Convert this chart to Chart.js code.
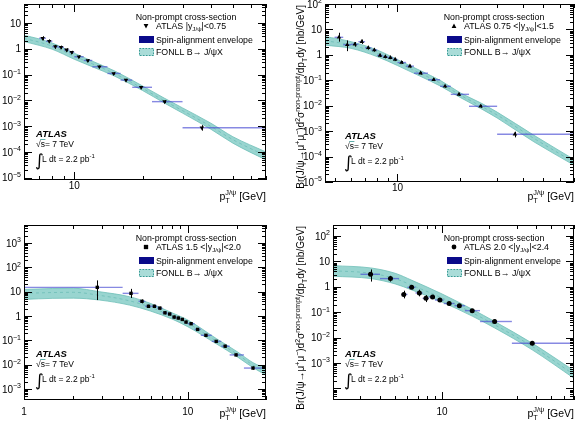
<!DOCTYPE html>
<html>
<head>
<meta charset="utf-8">
<script src="https://cdn.jsdelivr.net/npm/chart.js@4.4.0/dist/chart.umd.min.js"></script>
<style>
  body { margin: 0; background: #fff; width: 578px; height: 425px; overflow: hidden; position: relative; }
  canvas { position: absolute; }
</style>
</head>
<body>
<canvas id="c1" width="289" height="212" style="left:0;top:0"></canvas>
<canvas id="c2" width="289" height="212" style="left:289px;top:0"></canvas>
<canvas id="c3" width="289" height="213" style="left:0;top:212px"></canvas>
<canvas id="c4" width="289" height="213" style="left:289px;top:212px"></canvas>
<script>
// ---- panel 1 : |y| < 0.75
const pt1 = [7.25, 7.75, 8.25, 8.74, 9.24, 9.74, 10.47, 11.47, 12.9, 14.9, 16.9, 19.7, 25, 36.5];
const binLo1 = [7, 7.5, 8, 8.5, 9, 9.5, 10, 11, 12, 14, 16, 18, 22, 30];
const binHi1 = [7.5, 8, 8.5, 9, 9.5, 10, 11, 12, 14, 16, 18, 22, 30, 70];
const xs1 = [2.55, 1.95, 1.2, 1.14, 0.9, 0.73, 0.49, 0.35, 0.2, 0.11, 0.061, 0.032, 0.0089, 0.00087];
const errUp1 = [0.5, 0.35, 0.2, 0.18, 0.14, 0.1, 0.06, 0.04, 0.022, 0.012, 0.007, 0.004, 0.0012, 0.00022];
const errDn1 = [0.45, 0.3, 0.18, 0.16, 0.12, 0.09, 0.055, 0.035, 0.02, 0.011, 0.006, 0.0035, 0.0011, 0.0002];
const fonllPt1 = [6, 7, 8, 10, 12, 15, 20, 25, 30, 40, 50, 70];
const fonllLo1 = [1.9, 1.35, 0.95, 0.39, 0.2, 0.088, 0.024, 0.0078, 0.0032, 0.00076, 0.00022, 0.000049];
const fonllMid1 = [2.5, 1.8, 1.25, 0.51, 0.26, 0.11, 0.029, 0.0095, 0.004, 0.00098, 0.0003, 0.00007];
const fonllHi1 = [3.3, 2.4, 1.65, 0.67, 0.33, 0.14, 0.036, 0.012, 0.0051, 0.0013, 0.00039, 0.0001];

// ---- panel 2 : 0.75 < |y| < 1.5
const pt2 = [5.25, 5.75, 6.25, 6.75, 7.25, 7.75, 8.25, 8.75, 9.25, 9.75, 10.47, 11.47, 12.9, 14.9, 16.9, 19.7, 25, 36.5];
const binLo2 = [5, 5.5, 6, 6.5, 7, 7.5, 8, 8.5, 9, 9.5, 10, 11, 12, 14, 16, 18, 22, 30];
const binHi2 = [5.5, 6, 6.5, 7, 7.5, 8, 8.5, 9, 9.5, 10, 11, 12, 14, 16, 18, 22, 30, 70];
const xs2 = [4.9, 2.5, 2.6, 3.3, 1.9, 1.55, 0.95, 0.84, 0.78, 0.66, 0.5, 0.36, 0.19, 0.105, 0.058, 0.028, 0.0095, 0.00075];
const errUp2 = [2.5, 1.2, 0.6, 0.7, 0.35, 0.25, 0.15, 0.12, 0.11, 0.09, 0.07, 0.05, 0.025, 0.014, 0.008, 0.004, 0.0014, 0.0002];
const errDn2 = [1.6, 1.1, 0.5, 0.6, 0.3, 0.22, 0.13, 0.11, 0.1, 0.08, 0.06, 0.045, 0.022, 0.012, 0.007, 0.0035, 0.0012, 0.00018];
const fonllPt2 = [4.5, 6, 8, 10, 13, 16, 20, 25, 30, 45, 70];
const fonllLo2 = [2.4, 1.8, 0.85, 0.38, 0.138, 0.06, 0.021, 0.0078, 0.0033, 0.00038, 0.000046];
const fonllMid2 = [3.6, 2.45, 1.15, 0.5, 0.18, 0.078, 0.026, 0.0098, 0.0043, 0.00052, 0.00006];
const fonllHi2 = [5.3, 3.3, 1.55, 0.65, 0.23, 0.1, 0.032, 0.013, 0.0056, 0.00069, 0.000077];

// ---- panel 3 : 1.5 < |y| < 2.0
const pt3 = [2.8, 4.5, 5.25, 5.75, 6.25, 6.75, 7.25, 7.75, 8.25, 8.75, 9.25, 9.75, 10.47, 11.47, 12.9, 14.9, 16.9, 19.7, 25];
const binLo3 = [1, 4, 5, 5.5, 6, 6.5, 7, 7.5, 8, 8.5, 9, 9.5, 10, 11, 12, 14, 16, 18, 22];
const binHi3 = [4, 5, 5.5, 6, 6.5, 7, 7.5, 8, 8.5, 9, 9.5, 10, 11, 12, 14, 16, 18, 22, 30];
const xs3 = [15, 8.5, 4, 2.5, 2.5, 2.1, 1.35, 1.2, 0.9, 0.82, 0.72, 0.56, 0.48, 0.28, 0.16, 0.09, 0.057, 0.025, 0.0072];
const errUp3 = [14, 4.5, 0.8, 0.4, 0.4, 0.3, 0.2, 0.17, 0.13, 0.11, 0.1, 0.08, 0.06, 0.04, 0.02, 0.012, 0.008, 0.0035, 0.0012];
const errDn3 = [10.5, 3, 0.7, 0.35, 0.35, 0.28, 0.18, 0.15, 0.12, 0.1, 0.09, 0.07, 0.055, 0.035, 0.018, 0.011, 0.007, 0.003, 0.001];
const fonllPt3 = [1, 1.5, 2, 2.9, 4.4, 5.9, 8, 10, 15, 20, 25, 30];
const fonllLo3 = [4.8, 5.3, 5.4, 4.5, 2.8, 1.6, 0.75, 0.36, 0.07, 0.021, 0.0075, 0.0037];
const fonllMid3 = [8.5, 9.2, 9.4, 7, 4.2, 2.3, 1.0, 0.5, 0.09, 0.027, 0.0095, 0.005];
const fonllHi3 = [12.4, 13.5, 13.8, 9.9, 6.2, 3.3, 1.35, 0.68, 0.115, 0.034, 0.012, 0.0069];

// ---- panel 4 : 2.0 < |y| < 2.4
const pt4 = [3.48, 4.67, 5.68, 6.38, 7.15, 7.88, 8.69, 9.68, 11.1, 12.9, 15.6, 21.7, 37.8];
const binLo4 = [3, 4, 5.5, 6, 6.75, 7.5, 8.25, 9, 10.25, 12, 14, 17.5, 28];
const binHi4 = [4, 5.3, 6, 6.75, 7.5, 8.25, 9, 10.25, 12, 14, 17.5, 28, 70];
const xs4 = [3.1, 2.1, 0.5, 0.95, 0.57, 0.35, 0.4, 0.3, 0.22, 0.18, 0.115, 0.043, 0.006];
const errUp4 = [1.7, 0.6, 0.2, 0.2, 0.2, 0.12, 0.08, 0.06, 0.04, 0.03, 0.018, 0.008, 0.0012];
const errDn4 = [1.5, 0.5, 0.15, 0.15, 0.15, 0.1, 0.07, 0.05, 0.035, 0.025, 0.016, 0.007, 0.001];
const fonllPt4 = [2, 3.5, 5, 6.4, 10, 15.6, 21.7, 37.8, 70];
const fonllLo4 = [2.6, 2.1, 1.3, 0.75, 0.25, 0.07, 0.024, 0.0033, 0.00025];
const fonllMid4 = [4.3, 3.4, 2.1, 1.15, 0.36, 0.095, 0.032, 0.0045, 0.00035];
const fonllHi4 = [6.8, 5.5, 3.4, 1.8, 0.52, 0.13, 0.043, 0.006, 0.0005];

// axis ticks with labels
const yTicks1 = [1e-5, 1e-4, 1e-3, 1e-2, 1e-1, 1, 10];
const yTicks2 = [1e-5, 1e-4, 1e-3, 1e-2, 1e-1, 1, 10, 100];
const yTicks3 = [1e-3, 1e-2, 1e-1, 1, 10, 100, 1000];
const yTicks4 = [1e-3, 1e-2, 1e-1, 1, 10, 100];
const xTicks1 = [10];
const xTicks2 = [10];
const xTicks3 = [1, 10];
const xTicks4 = [10];

const rapidityLabels = [
  [['ATLAS |y'], ['J/\u03c8', '_'], ['|<0.75']],
  [['ATLAS 0.75 <|y'], ['J/\u03c8', '_'], ['|<1.5']],
  [['ATLAS 1.5 <|y'], ['J/\u03c8', '_'], ['|<2.0']],
  [['ATLAS 2.0 <|y'], ['J/\u03c8', '_'], ['|<2.4']]
];

const FONT = '"Liberation Sans", Arial, Helvetica, sans-serif';
const TEAL_FILL = 'rgba(128, 202, 196, 0.8)';
const TEAL_EDGE = '#6fbfb8';
const TEAL_DARK = '#3b9690';
const SPIN_BLUE = 'rgba(70, 74, 210, 0.65)';

function setFont(ctx, size, style) {
  ctx.font = (style || '') + ' ' + size + 'px ' + FONT;
}

// parts: [text, kind] with kind '' normal, '^' superscript, '_' subscript, '=' stacked (text=sub, 3rd=sup)
function richWidth(ctx, parts, size) {
  let w = 0;
  for (const p of parts) {
    const k = p[1] || '';
    if (k === '') { setFont(ctx, size); w += ctx.measureText(p[0]).width; }
    else if (k === '=') {
      setFont(ctx, size * 0.7);
      w += Math.max(ctx.measureText(p[0]).width, ctx.measureText(p[2]).width);
    } else { setFont(ctx, size * 0.7); w += ctx.measureText(p[0]).width; }
  }
  return w;
}

function richText(ctx, parts, x, y, size, align) {
  const w = richWidth(ctx, parts, size);
  let cx = x;
  if (align === 'right') cx = x - w;
  else if (align === 'center') cx = x - w / 2;
  ctx.textAlign = 'left';
  ctx.textBaseline = 'alphabetic';
  for (const p of parts) {
    const k = p[1] || '';
    if (k === '') {
      setFont(ctx, size);
      ctx.fillText(p[0], cx, y);
      cx += ctx.measureText(p[0]).width;
    } else if (k === '^') {
      setFont(ctx, size * 0.7);
      ctx.fillText(p[0], cx, y - size * 0.42);
      cx += ctx.measureText(p[0]).width;
    } else if (k === '_') {
      setFont(ctx, size * 0.7);
      ctx.fillText(p[0], cx, y + size * 0.28);
      cx += ctx.measureText(p[0]).width;
    } else {
      setFont(ctx, size * 0.7);
      ctx.fillText(p[0], cx, y + size * 0.3);
      ctx.fillText(p[2], cx, y - size * 0.45);
      cx += Math.max(ctx.measureText(p[0]).width, ctx.measureText(p[2]).width);
    }
  }
  return w;
}

function drawMarker(ctx, style, x, y, r) {
  ctx.fillStyle = '#000';
  ctx.beginPath();
  if (style === 'down') {
    ctx.moveTo(x - r, y - r * 0.8); ctx.lineTo(x + r, y - r * 0.8); ctx.lineTo(x, y + r);
  } else if (style === 'up') {
    ctx.moveTo(x - r, y + r * 0.8); ctx.lineTo(x + r, y + r * 0.8); ctx.lineTo(x, y - r);
  } else if (style === 'square') {
    ctx.rect(x - r * 0.9, y - r * 0.9, r * 1.8, r * 1.8);
  } else {
    ctx.arc(x, y, r, 0, Math.PI * 2);
  }
  ctx.closePath();
  ctx.fill();
}

const rootStyle = {
  id: 'rootStyle',
  beforeDatasetDraw(chart, args) {
    const ds = chart.data.datasets[args.index];
    if (!ds.errUp) return;
    const ctx = chart.ctx, xs = chart.scales.x, ys = chart.scales.y, a = chart.chartArea;
    ctx.save();
    ctx.beginPath();
    ctx.rect(a.left, a.top, a.right - a.left, a.bottom - a.top);
    ctx.clip();
    ds.data.forEach((p, i) => {
      const px = Math.round(xs.getPixelForValue(p.x)) + 0.5;
      const py = ys.getPixelForValue(p.y);
      // spin-alignment envelope (horizontal bin bar)
      ctx.strokeStyle = SPIN_BLUE;
      ctx.lineWidth = 1.4;
      ctx.beginPath();
      ctx.moveTo(xs.getPixelForValue(ds.binLo[i]), py);
      ctx.lineTo(xs.getPixelForValue(ds.binHi[i]), py);
      ctx.stroke();
      // statistical + systematic error
      ctx.strokeStyle = '#000';
      ctx.lineWidth = 1;
      ctx.beginPath();
      ctx.moveTo(px, ys.getPixelForValue(p.y + ds.errUp[i]));
      ctx.lineTo(px, ys.getPixelForValue(Math.max(p.y - ds.errDn[i], ys.min)));
      ctx.stroke();
    });
    ctx.restore();
  },
  afterDraw(chart) {
    const o = chart.options.plugins.rootStyle;
    const ctx = chart.ctx, xs = chart.scales.x, ys = chart.scales.y, a = chart.chartArea;
    const L = a.left, R = a.right, T = a.top, B = a.bottom;
    ctx.save();
    ctx.strokeStyle = '#000';
    ctx.fillStyle = '#000';
    ctx.lineWidth = 1;
    // frame
    ctx.strokeRect(Math.round(L) + 0.5, Math.round(T) + 0.5, Math.round(R - L) - 1, Math.round(B - T) - 1);
    // y ticks
    const yDecLo = Math.floor(Math.log10(ys.min)), yDecHi = Math.ceil(Math.log10(ys.max));
    ctx.beginPath();
    for (let d = yDecLo; d <= yDecHi; d++) {
      for (let k = 1; k <= 9; k++) {
        const v = k * Math.pow(10, d);
        if (v < ys.min || v > ys.max) continue;
        const py = Math.round(ys.getPixelForValue(v)) + 0.5;
        const len = k === 1 ? 8 : 4;
        ctx.moveTo(L, py); ctx.lineTo(L + len, py);
        ctx.moveTo(R, py); ctx.lineTo(R - len, py);
      }
    }
    // x ticks
    const xDecLo = Math.floor(Math.log10(xs.min)), xDecHi = Math.ceil(Math.log10(xs.max));
    for (let d = xDecLo; d <= xDecHi; d++) {
      for (let k = 1; k <= 9; k++) {
        const v = k * Math.pow(10, d);
        if (v < xs.min || v > xs.max) continue;
        const px = Math.round(xs.getPixelForValue(v)) + 0.5;
        const len = k === 1 ? 8 : 4;
        ctx.moveTo(px, B); ctx.lineTo(px, B - len);
        ctx.moveTo(px, T); ctx.lineTo(px, T + len);
      }
    }
    ctx.stroke();

    // y tick labels
    o.yTicks.forEach(v => {
      const py = ys.getPixelForValue(v);
      const e = Math.round(Math.log10(v));
      const parts = e === 0 ? [['1']] : e === 1 ? [['10']] : [['10'], [String(e).replace('-', '\u2212'), '^']];
      richText(ctx, parts, L - 3, py + 3.6, 10, 'right');
    });
    // x tick labels
    o.xTicks.forEach(v => {
      const px = xs.getPixelForValue(v);
      richText(ctx, [[String(v)]], px, B + o.xLabelDy, 10, 'center');
    });
    // x title
    richText(ctx, [['p'], ['T', '=', 'J/\u03c8'], [' [GeV]']], R, B + o.xTitleDy, 10.5, 'right');

    // y title (right column only)
    if (o.yTitle) {
      ctx.save();
      ctx.translate(o.yTitleX, T + 1);
      ctx.rotate(-Math.PI / 2);
      richText(ctx, [['Br(J/\u03c8\u2192\u03bc'], ['+', '^'], ['\u03bc'], ['\u2212', '^'], [')d'], ['2', '^'],
        ['\u03c3'], ['non-prompt', '^'], ['/dp'], ['T', '_'], ['dy [nb/GeV]']], 0, 0, 10, 'right');
      ctx.restore();
    }

    // legend
    const bx = R - 127;
    ctx.fillStyle = '#000';
    richText(ctx, [['Non-prompt cross-section']], R - 80, T + 16, 8.8, 'center');
    drawMarker(ctx, o.marker, bx + 7, T + 22, 2.4);
    ctx.fillStyle = '#000';
    richText(ctx, o.label, bx + 17, T + 25, 8.8, 'left');
    ctx.fillStyle = '#0a0a8a';
    ctx.fillRect(bx, T + 32, 15, 7);
    ctx.fillStyle = '#000';
    richText(ctx, [['Spin-alignment envelope']], bx + 17, T + 39, 8.8, 'left');
    ctx.fillStyle = '#a9dcd8';
    ctx.fillRect(bx, T + 44, 15, 8);
    ctx.setLineDash([1.5, 1.5]);
    ctx.strokeStyle = '#3a9a95';
    ctx.strokeRect(bx + 0.5, T + 44.5, 14, 7);
    ctx.setLineDash([]);
    ctx.fillStyle = '#000';
    richText(ctx, [['FONLL B\u2192 J/\u03c8X']], bx + 17, T + 51, 8.8, 'left');

    // ATLAS label
    const ax = o.atlasX;
    ctx.fillStyle = '#000';
    setFont(ctx, 9.5, 'italic bold');
    ctx.textAlign = 'left';
    ctx.fillText('ATLAS', ax, B - 43);
    setFont(ctx, 8.5);
    ctx.fillText('\u221as= 7 TeV', ax, B - 33);
    const w0 = ctx.measureText('\u221a').width, w1 = ctx.measureText('s').width;
    ctx.beginPath();
    ctx.moveTo(ax + w0 - 0.5, B - 40.5); ctx.lineTo(ax + w0 + w1 + 0.5, B - 40.5);
    ctx.lineWidth = 0.8;
    ctx.stroke();
    ctx.font = '17px "DejaVu Sans", sans-serif';
    ctx.fillText('\u222b', ax - 1, B - 14);
    richText(ctx, [['L dt = 2.2 pb'], ['-1', '^']], ax + 6, B - 18, 8.5, 'left');
    ctx.restore();
  }
};

function makePanel(id, cfg) {
  const toXY = (xv, yv) => xv.map((x, i) => ({ x, y: yv[i] }));
  return new Chart(document.getElementById(id), {
    type: 'line',
    data: {
      datasets: [
        {
          data: toXY(cfg.pt, cfg.xs), showLine: false, order: 0,
          pointStyle: cfg.pointStyle, pointRotation: cfg.rotation, pointRadius: cfg.radius,
          pointBackgroundColor: '#000', pointBorderColor: '#000', pointBorderWidth: 0,
          errUp: cfg.errUp, errDn: cfg.errDn, binLo: cfg.binLo, binHi: cfg.binHi
        },
        {
          data: toXY(cfg.fPt, cfg.fHi), order: 1, borderColor: TEAL_EDGE, borderWidth: 0.8,
          pointRadius: 0, fill: false, cubicInterpolationMode: 'monotone'
        },
        {
          data: toXY(cfg.fPt, cfg.fLo), order: 2, borderColor: TEAL_EDGE, borderWidth: 0.8,
          pointRadius: 0, fill: '-1', backgroundColor: TEAL_FILL,
          cubicInterpolationMode: 'monotone'
        },
        {
          data: toXY(cfg.fPt, cfg.fMid), order: 3, borderColor: TEAL_DARK, borderWidth: 0.9,
          borderDash: [3, 3], pointRadius: 0, fill: false, cubicInterpolationMode: 'monotone'
        }
      ]
    },
    options: {
      responsive: false,
      animation: false,
      devicePixelRatio: 1,
      layout: { padding: cfg.pad },
      plugins: {
        legend: { display: false },
        tooltip: { enabled: false },
        rootStyle: {
          yTicks: cfg.yTicks, xTicks: cfg.xTicks, marker: cfg.marker, label: cfg.label,
          xLabelDy: cfg.xLabelDy, xTitleDy: cfg.xTitleDy, yTitle: cfg.yTitle, yTitleX: 15,
          atlasX: cfg.atlasX
        }
      },
      scales: {
        x: { type: 'logarithmic', min: cfg.xMin, max: cfg.xMax, display: false },
        y: { type: 'logarithmic', min: cfg.yMin, max: cfg.yMax, display: false }
      }
    },
    plugins: [rootStyle]
  });
}

makePanel('c1', {
  pt: pt1, xs: xs1, errUp: errUp1, errDn: errDn1, binLo: binLo1, binHi: binHi1,
  fPt: fonllPt1, fLo: fonllLo1, fMid: fonllMid1, fHi: fonllHi1,
  yTicks: yTicks1, xTicks: xTicks1, label: rapidityLabels[0],
  pointStyle: 'triangle', rotation: 180, radius: 2.6, marker: 'down',
  pad: { left: 24, top: 4, right: 23, bottom: 32 },
  xMin: 6, xMax: 70, yMin: 8.2e-6, yMax: 54,
  xLabelDy: 9, xTitleDy: 20, yTitle: false, atlasX: 36
});
makePanel('c2', {
  pt: pt2, xs: xs2, errUp: errUp2, errDn: errDn2, binLo: binLo2, binHi: binHi2,
  fPt: fonllPt2, fLo: fonllLo2, fMid: fonllMid2, fHi: fonllHi2,
  yTicks: yTicks2, xTicks: xTicks2, label: rapidityLabels[1],
  pointStyle: 'triangle', rotation: 0, radius: 2.6, marker: 'up',
  pad: { left: 36, top: 4, right: 4, bottom: 30 },
  xMin: 4.5, xMax: 70, yMin: 1e-5, yMax: 100,
  xLabelDy: 9, xTitleDy: 18, yTitle: true, atlasX: 56
});
makePanel('c3', {
  pt: pt3, xs: xs3, errUp: errUp3, errDn: errDn3, binLo: binLo3, binHi: binHi3,
  fPt: fonllPt3, fLo: fonllLo3, fMid: fonllMid3, fHi: fonllHi3,
  yTicks: yTicks3, xTicks: xTicks3, label: rapidityLabels[2],
  pointStyle: 'rect', rotation: 0, radius: 2.4, marker: 'square',
  pad: { left: 24, top: 13, right: 23, bottom: 25 },
  xMin: 1, xMax: 30, yMin: 3.5e-4, yMax: 5500,
  xLabelDy: 15, xTitleDy: 17, yTitle: false, atlasX: 36
});
makePanel('c4', {
  pt: pt4, xs: xs4, errUp: errUp4, errDn: errDn4, binLo: binLo4, binHi: binHi4,
  fPt: fonllPt4, fLo: fonllLo4, fMid: fonllMid4, fHi: fonllHi4,
  yTicks: yTicks4, xTicks: xTicks4, label: rapidityLabels[3],
  pointStyle: 'circle', rotation: 0, radius: 2.5, marker: 'circle',
  pad: { left: 44, top: 13, right: 3, bottom: 25 },
  xMin: 2, xMax: 70, yMin: 3.5e-5, yMax: 270,
  xLabelDy: 15, xTitleDy: 17, yTitle: true, atlasX: 56
});
</script>
</body>
</html>
